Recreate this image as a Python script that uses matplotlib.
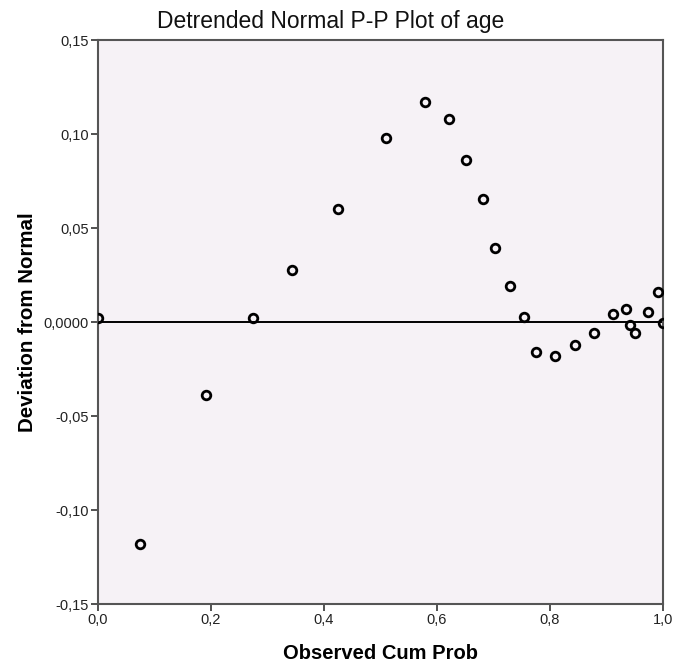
import matplotlib
matplotlib.use("Agg")
import matplotlib.pyplot as plt

# Data
obs_cum_prob = [0.000, 0.075, 0.192, 0.274, 0.344, 0.424, 0.510, 0.579, 0.622, 0.652,
                0.681, 0.703, 0.729, 0.754, 0.775, 0.809, 0.845, 0.878, 0.912, 0.934,
                0.942, 0.950, 0.973, 0.992, 1.000]
deviation = [0.002, -0.118, -0.0386, 0.002, 0.0277, 0.0601, 0.0978, 0.117, 0.108, 0.0863,
             0.0656, 0.0391, 0.0192, 0.0027, -0.016, -0.018, -0.0123, -0.0059, 0.0041, 0.0068,
             -0.0018, -0.006, 0.0055, 0.016, -0.0007]

x_ticks = [0.0, 0.2, 0.4, 0.6, 0.8, 1.0]
x_tick_labels = ["0,0", "0,2", "0,4", "0,6", "0,8", "1,0"]
y_ticks = [-0.15, -0.10, -0.05, 0.0, 0.05, 0.10, 0.15]
y_tick_labels = ["-0,15", "-0,10", "-0,05", "0,0000", "0,05", "0,10", "0,15"]

plt.rcParams['font.family'] = ['Liberation Sans', 'DejaVu Sans']

fig = plt.figure(figsize=(6.75, 6.68), dpi=100)
ax = fig.add_axes([98/675, 1 - 604/668, (663-98)/675, (604-40)/668])
ax.set_facecolor('#F6F2F6')

ax.axhline(0, color='black', lw=1.4, zorder=2)
ax.plot(obs_cum_prob, deviation, linestyle='none', marker='o', markersize=6.2,
        markerfacecolor='none', markeredgecolor='black', markeredgewidth=2.0,
        zorder=3, clip_on=True)

ax.set_xlim(0, 1)
ax.set_ylim(-0.15, 0.15)
ax.set_xticks(x_ticks)
ax.set_xticklabels(x_tick_labels)
ax.set_yticks(y_ticks)
ax.set_yticklabels(y_tick_labels)
ax.tick_params(direction='out', length=5, width=1.2, color='#333333',
               labelsize=10.5, labelcolor='#222222', pad=1.5)

for side in ['left', 'bottom', 'top', 'right']:
    ax.spines[side].set_color('#555555')
    ax.spines[side].set_linewidth(1.5)

fig.text(0.49, 0.968, "Detrended Normal P-P Plot of age", ha='center', va='center',
         fontsize=16.5, color='#111111')
ax.set_xlabel("Observed Cum Prob", fontsize=14.5, fontweight='bold', labelpad=12)
ax.set_ylabel("Deviation from Normal", fontsize=14.8, fontweight='bold', labelpad=5)

fig.savefig("out.png", dpi=100, facecolor='white')
